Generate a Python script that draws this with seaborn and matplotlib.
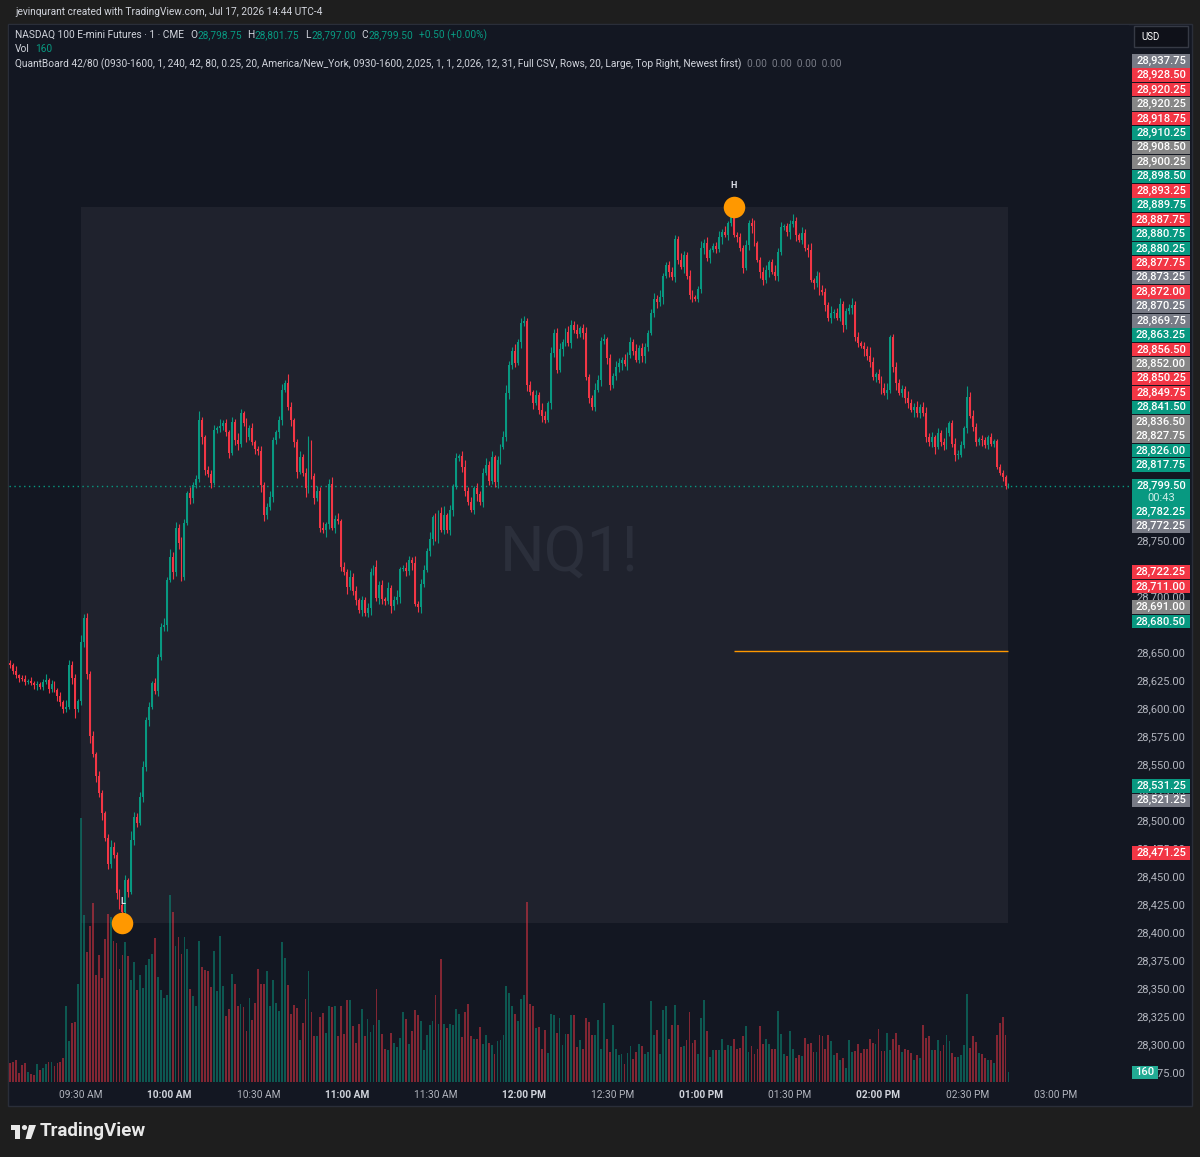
import numpy as np
import pandas as pd
import matplotlib
matplotlib.use("Agg")
import matplotlib.pyplot as plt
import seaborn as sns
from matplotlib.patches import Rectangle, Circle, Polygon

# ==============================
# DATA  (1-minute NQ bars, minute 0 = 09:30)
# ==============================
minutes = list(range(-24, 315))
first_open = 28641.0

closes = [
    # 09:06 - 09:29
    28639, 28634, 28630, 28628, 28627, 28624, 28625, 28623, 28621, 28622, 28620, 28624,
    28626, 28618, 28622, 28617, 28612, 28606, 28600, 28602, 28639, 28628, 28600, 28607,
    # 09:30 - 10:17
    28660, 28681, 28631, 28576, 28560, 28540, 28525, 28507, 28485, 28462,
    28477, 28470, 28436, 28425, 28419, 28447, 28437, 28483, 28504, 28498,
    28521, 28548, 28590, 28602, 28623, 28616, 28646, 28673, 28675, 28715,
    28736, 28722, 28762, 28748, 28718, 28766, 28793, 28788, 28800, 28805,
    28858, 28843, 28813, 28810, 28802, 28849, 28851, 28853,
    # 10:18 - 10:30
    28855, 28847, 28829, 28856, 28840, 28837, 28864, 28855, 28843, 28851, 28838, 28832, 28830,
    # 10:31 - 11:01
    28800, 28773, 28780, 28789, 28840, 28847, 28858, 28885, 28891, 28870,
    28858, 28838, 28812, 28825, 28811, 28797, 28838, 28808, 28788, 28795,
    28762, 28760, 28765, 28801, 28762, 28770, 28768, 28727, 28722, 28709, 28718,
    # 11:02 - 11:12
    28705, 28697, 28688, 28697, 28686, 28690, 28722, 28727, 28699, 28711, 28698,
    # 11:13 - 11:24
    28696, 28708, 28692, 28697, 28700, 28725, 28726, 28723, 28733, 28730, 28694, 28691,
    # 11:25 - 12:01
    28712, 28724, 28741, 28752, 28771, 28753, 28775, 28760, 28773, 28760,
    28778, 28798, 28824, 28826, 28816, 28795, 28785, 28778, 28797, 28792,
    28785, 28811, 28818, 28804, 28825, 28803, 28822, 28834, 28843, 28882,
    28907, 28920, 28909, 28928, 28945, 28946, 28889,
    # 12:02 - 12:44
    28883, 28873, 28880, 28867, 28862, 28858, 28873, 28918, 28936, 28903,
    28921, 28928, 28937, 28927, 28943, 28938, 28935, 28940, 28936, 28896,
    28878, 28870, 28885, 28894, 28929, 28930, 28913, 28889, 28897, 28905,
    28909, 28912, 28908, 28916, 28928, 28920, 28912, 28922, 28915, 28923,
    28936, 28954, 28966,
    # 12:45 - 14:44
    28963, 28968, 28987, 28996, 28990, 28986, 29020, 29001, 28995, 29005,
    28987, 28970, 28968, 28966, 28975, 29012, 29016, 29003, 29010, 29013,
    29011, 29021, 29026, 29023, 29034, 29039, 29023, 29021, 29012, 28994,
    29014, 29034, 29031, 29016, 29001, 28990, 28983, 28992, 28999, 28990,
    28987, 29008, 29030, 29031, 29026, 29033, 29036, 29023, 29019, 29025,
    29012, 29010, 28983, 28980, 28987, 28974, 28972, 28961, 28949, 28954,
    28954, 28949, 28962, 28943, 28955, 28958, 28961, 28932, 28927, 28924,
    28921, 28915, 28910, 28896, 28899, 28894, 28887, 28882, 28885, 28932,
    28905, 28891, 28882, 28886, 28878, 28873, 28867, 28870, 28864, 28870,
    28864, 28843, 28838, 28843, 28834, 28846, 28838, 28836, 28846, 28855,
    28837, 28827, 28827, 28836, 28851, 28879, 28862, 28852, 28838, 28841,
    28840, 28836, 28843, 28837, 28839, 28816, 28811, 28807, 28798.75, 28799.5,
]

wick_hi = [
    3, 2, 4, 1, 2, 3, 2, 4, 2, 3, 2, 3, 5, 2, 4, 3, 2, 3, 2, 6, 5, 4, 3, 2,
    6, 4, 5, 3, 4, 2, 5, 3, 2, 3, 6, 4, 2, 3, 3, 5, 2, 8, 4, 3, 5, 6, 3, 4, 2, 5,
    3, 4, 6, 3, 7, 4, 5, 3, 6, 4, 2, 5, 3, 4, 8, 3, 2, 4, 3, 5, 2, 6,
    3, 4, 2, 5, 3, 6, 4, 2, 5, 3, 4, 2, 3, 5, 3, 4, 6, 3, 2, 4, 5, 3, 8, 4, 2, 3,
    5, 3, 4, 6, 2, 3, 4, 3, 5, 2, 4, 6, 3, 5, 2, 4, 3, 6,
    3, 5, 2, 4, 3, 5, 4, 2, 6, 3, 4, 2, 5, 3, 4, 6, 2, 3, 5, 4, 3, 7, 2, 4, 5, 3,
    6, 2, 4, 3, 5, 8, 2, 4, 3, 5, 2, 4, 6, 3, 4, 2, 5, 3, 4, 6, 3, 5, 2, 4, 3, 5,
    7, 4, 3, 6, 2, 4, 5, 3,
    4, 2, 5, 3, 6, 4, 2, 5, 3, 4, 6, 2, 3, 5, 4, 3, 6, 2, 4, 5, 3, 2, 6, 4, 3, 5,
    2, 4, 3, 6, 4, 2, 5, 3, 4, 2, 6, 3, 5, 4, 2, 3, 5, 4, 6, 2, 3, 4, 5, 3, 2, 6,
    4, 3, 5, 4, 2, 3, 6, 4, 5, 2, 3, 4, 6, 3, 5, 2, 4,
    9,
    3, 4, 2, 5, 3, 4, 6, 2, 3, 5, 4, 2, 3, 6, 4, 5, 2, 3, 4, 6, 3, 2, 5, 4, 3, 6,
    2, 4, 3, 5, 4, 2, 6, 3, 4, 5, 2, 3, 4, 6, 3, 5, 2, 4, 3, 8, 4, 2, 5, 3, 4, 6,
    2, 3, 5, 4, 3, 2, 6, 4, 3, 5, 2, 4, 6, 3, 4, 2, 5, 3, 4, 6, 2, 3, 5, 4, 3, 2,
    9, 4, 5, 3, 2, 4, 3, 2, 3, 2, 2, 3, 2, 2, 2.25,
]

wick_lo = [
    2, 3, 2, 4, 2, 3, 2, 2, 3, 4, 2, 3, 2, 4, 3, 2, 5, 3, 4, 3, 2, 6, 8, 3,
    3, 5, 4, 6, 3, 5, 4, 6, 3, 5, 4, 3, 6, 4, 10, 3, 5, 2, 4, 3, 2, 4, 3, 5, 2, 3,
    4, 2, 3, 5, 2, 6, 3, 5, 4, 3, 2, 5, 4, 3, 2, 6, 4, 3, 5, 2, 3, 4,
    4, 3, 5, 2, 4, 6, 3, 2, 5, 3, 2, 4, 3, 6, 5, 3, 2, 4, 3, 5, 4, 2, 3, 5, 4, 6,
    2, 3, 8, 4, 3, 5, 2, 4, 3, 6, 4, 2, 5, 3, 4, 2, 6, 3,
    3, 4, 2, 5, 3, 4, 6, 2, 3, 5, 4, 3, 2, 6, 4, 3, 5, 2, 4, 3, 6, 2, 4, 5, 3, 2,
    4, 6, 3, 5, 2, 4, 3, 5, 6, 2, 3, 4, 5, 3, 2, 4, 6, 3, 5, 2, 4, 3, 5, 6, 3, 2,
    4, 5, 3, 4, 2, 6, 3, 5,
    3, 5, 2, 4, 6, 3, 2, 5, 4, 3, 2, 6, 4, 3, 5, 2, 4, 3, 6, 2, 5, 3, 4, 2, 6, 3,
    5, 4, 2, 3, 4, 6, 2, 5, 3, 4, 2, 3, 5, 6, 3, 2, 4, 5, 3, 6, 2, 4, 3, 5, 4, 2,
    6, 3, 4, 5, 2, 3, 4, 6, 3, 5, 2, 4, 3, 6, 2, 4, 3,
    2,
    4, 3, 5, 2, 4, 6, 3, 2, 5, 4, 3, 6, 2, 4, 5, 3, 2, 4, 6, 3, 5, 2, 4, 3, 6, 2,
    5, 3, 4, 2, 6, 3, 4, 5, 2, 3, 6, 4, 2, 5, 3, 4, 2, 6, 3, 5, 2, 4, 3, 6, 2, 5,
    3, 4, 6, 2, 3, 5, 4, 2, 6, 3, 4, 2, 5, 3, 4, 6, 2, 3, 5, 4, 2, 3, 6, 4, 2, 3,
    5, 2, 4, 3, 2, 5, 3, 4, 2, 3, 2, 2, 3, 2, 1.75,
]

volumes = [
    304, 320, 346, 144, 266, 304, 160, 133, 117, 293, 187, 224,
    282, 320, 320, 250, 304, 320, 389, 1215, 650, 949, 959, 1562,
    4224, 2665, 2079, 2494, 2868, 1706, 2036, 1668, 2292, 2692,
    2638, 2249, 2228, 1812, 2036, 2239, 2009, 1626, 1913, 1466,
    1706, 1503, 1866, 1961, 2041, 2308, 1679, 1466, 1343, 1396,
    2985, 2718, 2169, 2319, 2052, 2319, 2132, 1492, 1370, 1210,
    2249, 1839, 1796, 1775, 1519, 2089, 1450, 2329,
    1530, 1050, 1162, 1732, 1562, 1215, 1253, 1199, 810, 1348,
    986, 1269, 1812, 1562, 1572, 1775, 1215, 1626, 1269, 1130,
    2239, 1988, 1546, 1093, 1226, 1189, 666, 943, 1322, 1775,
    1119, 730, 730, 1039, 1103, 789, 1215, 1199, 1215, 730,
    1215, 773, 1317, 1317, 890, 629, 933, 1173, 730, 1013,
    800, 906, 1492, 986, 762, 533, 506, 784, 629, 560,
    709, 1119, 1013, 602, 815, 1146, 1077, 970, 506, 746,
    906, 970, 1386, 922, 1961, 933, 863, 922, 906, 1162,
    1082, 720, 1119, 1242, 730, 693, 693, 879, 602, 746,
    629, 586, 453, 650, 666,
    757, 1530, 1423, 1215, 1093, 970, 1322, 1396, 2878, 1253,
    1215, 863, 879, 533, 826, 469, 1093, 1066, 789, 1029,
    597, 773, 773, 1066, 1066, 560, 677, 522, 1029, 959,
    746, 757, 986, 533, 1263, 693, 480, 906, 533, 426,
    442, 293, 469, 576, 373, 480, 613, 576, 453, 480,
    1295, 757, 837, 453, 1146, 1215, 693, 906, 1226, 917,
    560, 576, 666, 1119, 629, 677, 442, 1029, 1306, 810,
    400, 517, 506, 517, 682, 506, 586, 576, 693, 522,
    549, 736, 890, 480, 576, 453, 533, 890, 602, 682,
    602, 522, 533, 1135, 773, 453, 416, 810, 533, 384,
    426, 416, 709, 602, 629, 480, 480, 757, 730, 533,
    757, 656, 426, 469, 357, 384, 224, 666, 480, 496,
    602, 469, 522, 533, 682, 629, 613, 842, 496, 496,
    789, 517, 693, 789, 586, 480, 533, 506, 469, 346,
    426, 389, 917, 709, 730, 517, 517, 666, 496, 586,
    757, 656, 469, 400, 400, 426, 586, 1402, 549, 730,
    640, 469, 442, 384, 346, 346, 309, 757, 943, 1039,
    746, 160,
]

tick_minutes = [0, 30, 60, 90, 120, 150, 180, 210, 240, 270, 300, 330]
tick_labels = ["09:30 AM", "10:00 AM", "10:30 AM", "11:00 AM", "11:30 AM", "12:00 PM",
               "12:30 PM", "01:00 PM", "01:30 PM", "02:00 PM", "02:30 PM", "03:00 PM"]

label_prices = [28937.75, 28928.50, 28920.25, 28920.25, 28918.75, 28910.25, 28908.50,
                28900.25, 28898.50, 28893.25, 28889.75, 28887.75, 28880.75, 28880.25,
                28877.75, 28873.25, 28872.00, 28870.25, 28869.75, 28863.25, 28856.50,
                28852.00, 28850.25, 28849.75, 28841.50, 28836.50, 28827.75, 28826.00,
                28817.75, 28782.25, 28772.25, 28722.25, 28711.00, 28691.00, 28680.50,
                28531.25, 28521.25, 28471.25]
label_kinds = ["slate", "red", "red", "grey", "red", "green", "grey", "grey", "green", "red",
               "green", "red", "green", "green", "red", "slate", "red", "slate", "slate",
               "green", "red", "grey", "red", "red", "green", "grey", "grey", "green",
               "green", "green", "slate", "red", "red", "grey", "green", "green", "slate",
               "red"]
level_line = 28651.75

assert len(closes) == len(minutes) == len(wick_hi) == len(wick_lo) == len(volumes), \
    (len(closes), len(wick_hi), len(wick_lo), len(volumes))

# ==============================
# FRAME
# ==============================
df = pd.DataFrame({"minute": minutes, "close": closes, "volume": volumes})
df["open"] = [first_open] + closes[:-1]
df["high"] = df[["open", "close"]].max(axis=1) + wick_hi
df["low"] = df[["open", "close"]].min(axis=1) - wick_lo
df["side"] = np.where(df["close"] >= df["open"], "up", "down")

sess = df[df["minute"] >= 0]
hi_row = sess.loc[sess["high"].idxmax()]
lo_row = sess.loc[sess["low"].idxmin()]

# ==============================
# STYLE
# ==============================
sns.set_theme(style="dark")
plt.rcParams["font.family"] = ["Roboto", "DejaVu Sans"]

UP, DOWN = "#089981", "#f23645"
BG, BOX = "#131722", "#1f222d"
FG, AXT = "#d1d4dc", "#b2b5be"
KIND = {"red": DOWN, "green": UP, "grey": "#868686", "slate": "#787b86"}

W, H = 1200, 1157
fig = plt.figure(figsize=(W / 100, H / 100), dpi=100, facecolor="#1e1e1e")


def fr(x0, y0, x1, y1):
    return [x0 / W, 1 - y1 / H, (x1 - x0) / W, (y1 - y0) / H]


def fig_rect(x0, y0, x1, y1, **kw):
    fig.add_artist(Rectangle((x0 / W, 1 - y1 / H), (x1 - x0) / W, (y1 - y0) / H,
                             transform=fig.transFigure, **kw))


fig_rect(8, 24, 1192, 1106, facecolor=BG, edgecolor="#2a2e39", lw=1, zorder=0)

ax_vol = fig.add_axes(fr(9, 25, 1129, 1082))
ax = fig.add_axes(fr(9, 25, 1129, 1082))
ax_vol.set_zorder(1)
ax.set_zorder(2)
ax_vol.set_facecolor(BG)
ax.patch.set_alpha(0)

# ==============================
# VOLUME (seaborn)
# ==============================
sns.histplot(data=df, x="minute", weights="volume", hue="side", hue_order=["up", "down"],
             palette={"up": UP, "down": DOWN}, discrete=True, shrink=0.62, alpha=0.5,
             linewidth=0, legend=False, ax=ax_vol)
ax_vol.add_patch(Rectangle((0, lo_row["low"]), sess["minute"].max(), hi_row["high"] - lo_row["low"],
                           transform=ax.transData, facecolor=BOX, edgecolor="none", zorder=0.5))
ax_vol.text(0.5, 0.5, "NQ1!", transform=ax_vol.transAxes, ha="center", va="center",
            fontsize=45, color="#2b2f3b", zorder=0.8)

# ==============================
# CANDLES
# ==============================
colors = np.where(df["side"] == "up", UP, DOWN)
ax.vlines(df["minute"], df["low"], df["high"], colors=colors, lw=0.8, zorder=3)
body = (df["close"] - df["open"]).abs().clip(lower=0.6)
ax.bar(df["minute"], body, bottom=df[["open", "close"]].min(axis=1), width=0.64,
       color=colors, linewidth=0, zorder=4)

ax.axhline(df["close"].iloc[-1], color=UP, lw=1, ls=(0, (1, 2.5)), zorder=2)
ax.hlines(level_line, hi_row["minute"], sess["minute"].max(), color="#ff9800", lw=1, zorder=3)
for row, tag in [(hi_row, "H"), (lo_row, "L")]:
    y = row["high"] if tag == "H" else row["low"]
    ax.plot(row["minute"], y, "o", ms=15.5, color="#ff9800", mec="none", zorder=6)
    ax.annotate(tag, (row["minute"], y), xytext=(0, 15.5), textcoords="offset points",
                ha="center", va="center", fontsize=6.5, fontweight="bold", color="#e0e3eb",
                zorder=7)

for a in (ax, ax_vol):
    a.set_xlim(-24.4, 354.8)
    for s in a.spines.values():
        s.set_visible(False)
    a.grid(False)
    a.set_xlabel("")
    a.set_ylabel("")
ax.set_ylim(28266.96, 29210.7)
ax_vol.set_ylim(0, 1057 * 16)
ax_vol.set_xticks([])
ax_vol.set_yticks([])
ax.set_yticks([])
ax.set_xticks(tick_minutes)
ax.set_xticklabels(tick_labels)
ax.tick_params(axis="x", length=0, pad=5.5, labelsize=7.3, labelcolor=AXT)
for t in ax.get_xticklabels():
    if t.get_text().endswith(":00 AM") or t.get_text() in ("12:00 PM", "01:00 PM", "02:00 PM"):
        t.set_fontweight("bold")
        t.set_color(FG)

# ==============================
# PRICE SCALE
# ==============================
def ypix(p):
    return ax.transData.transform((0, p))[1]


cur = df["close"].iloc[-1]
yc = ypix(cur)
half = 7.22
placed = []
edge = yc + 7
for p, k in sorted((p, k) for p, k in zip(label_prices, label_kinds) if p > cur):
    y = max(ypix(p), edge + half)
    placed.append((p, k, y))
    edge = y + half
edge = yc - 19
for p, k in sorted(((p, k) for p, k in zip(label_prices, label_kinds) if p < cur), reverse=True):
    y = min(ypix(p), edge - half)
    placed.append((p, k, y))
    edge = y - half

# scale ticks: skip those fully covered by the stacked labels (as TradingView does)
for p in np.arange(28275, 29200, 25):
    yt = ypix(p)
    if yt > yc - 19 or any(abs(yt - y) < 4 for _, _, y in placed):
        continue
    fig.text(1161 / W, yt / H, f"{p:,.2f}", color=AXT, fontsize=8, ha="center",
             va="center", zorder=4)

for p, k, y in placed:
    fig.add_artist(Rectangle((1132 / W, (y - 6.8) / H), 58 / W, 13.6 / H,
                             transform=fig.transFigure, facecolor=KIND[k], lw=0, zorder=5))
    fig.text(1161 / W, y / H, f"{p:,.2f}", color="white", fontsize=8, fontweight="medium",
             ha="center", va="center", zorder=6)

fig.add_artist(Rectangle((1132 / W, (yc - 19) / H), 58 / W, 26 / H, transform=fig.transFigure,
                         facecolor=UP, lw=0, zorder=5))
fig.text(1161 / W, yc / H, f"{cur:,.2f}", color="white", fontsize=8, fontweight="medium",
         ha="center", va="center", zorder=6)
fig.text(1161 / W, (yc - 12) / H, "00:43", color="#cdeee8", fontsize=8, ha="center",
         va="center", zorder=6)

yv = ax_vol.transData.transform((0, volumes[-1]))[1]
fig.add_artist(Rectangle((1132 / W, (yv - 6.5) / H), 26 / W, 13 / H, transform=fig.transFigure,
                         facecolor="#22ab94", lw=0, zorder=5))
fig.text(1145 / W, yv / H, f"{volumes[-1]}", color="white", fontsize=8, fontweight="medium",
         ha="center", va="center", zorder=6)

fig_rect(1134, 26, 1188, 47, facecolor="#0f1119", edgecolor="#363a45", lw=1, zorder=5)
fig.text(1141 / W, 1 - 37 / H, "USD", color="white", fontsize=7, ha="left", va="center",
         zorder=6)

# ==============================
# HEADER TEXT
# ==============================
rend = fig.canvas.get_renderer()


def runs(x, y, parts, size=7.3):
    for txt, col, gap in parts:
        t = fig.text(x / W, 1 - y / H, txt, color=col, fontsize=size, ha="left", va="center",
                     zorder=6)
        x += t.get_window_extent(rend).width + gap


runs(15, 12, [("jevinqurant created with TradingView.com, Jul 17, 2026 14:44 UTC-4", FG, 0)])
runs(15, 35, [("NASDAQ 100 E-mini Futures · 1 · CME", FG, 6),
              ("O", FG, 0), ("28,798.75", UP, 6), ("H", FG, 0), ("28,801.75", UP, 6),
              ("L", FG, 0), ("28,797.00", UP, 6), ("C", FG, 0), ("28,799.50", UP, 6),
              ("+0.50 (+0.00%)", UP, 0)])
runs(15, 49, [("Vol", FG, 5), (f"{volumes[-1]}", UP, 0)])
runs(15, 64, [("QuantBoard 42/80 (0930-1600, 1, 240, 42, 80, 0.25, 20, America/New_York, "
               "0930-1600, 2,025, 1, 1, 2,026, 12, 31, Full CSV, Rows, 20, Large, Top Right, "
               "Newest first)", FG, 6),
              ("0.00  0.00  0.00  0.00", "#787b86", 0)])

# ==============================
# LOGO
# ==============================
logo = "#e8e8e8"
fig_rect(11, 1125, 20, 1130, facecolor=logo, lw=0)
fig_rect(15, 1125, 20, 1139, facecolor=logo, lw=0)
fig.add_artist(Circle((24.5 / W, 1 - 1127.5 / H), 2.6 / W, transform=fig.transFigure,
                      facecolor=logo, lw=0))
fig.add_artist(Polygon([(29 / W, 1 - 1125 / H), (36 / W, 1 - 1125 / H), (31 / W, 1 - 1139 / H),
                        (25.5 / W, 1 - 1139 / H)], transform=fig.transFigure,
                       facecolor=logo, lw=0))
fig.text(40 / W, 1 - 1131 / H, "TradingView", color=logo, fontsize=13.5, fontweight="bold",
         ha="left", va="center")

fig.savefig("out.png", dpi=100, facecolor=fig.get_facecolor())
